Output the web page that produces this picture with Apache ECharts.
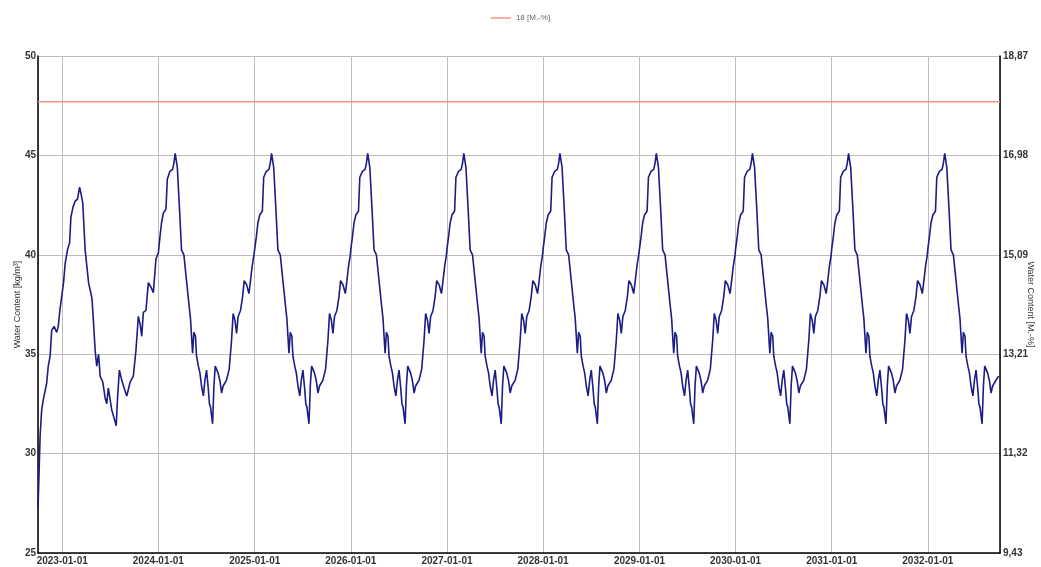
<!DOCTYPE html>
<html>
<head>
<meta charset="utf-8">
<script src="https://cdn.jsdelivr.net/npm/echarts@6/dist/echarts.min.js"></script>
<style>
html,body{margin:0;padding:0;background:#fff;}
#chart{width:1041px;height:567px;}
</style>
</head>
<body>
<div id="chart"></div>
<script>
// ---------- DATA ----------
const xTickLabels = ['2023-01-01','2024-01-01','2025-01-01','2026-01-01','2027-01-01','2028-01-01','2029-01-01','2030-01-01','2031-01-01','2032-01-01'];
const leftTickLabels = ['25','30','35','40','45','50'];
const rightTickLabels = ['9,43','11,32','13,21','15,09','16,98','18,87'];
const limitName = '18 [M.-%]';
const limitValue = 47.7; // in kg/m³ (18 M.-%)

// 2022 (from 2022-10-01), day offsets and values
const days2022 = [0, 4, 8, 14, 20, 26, 33, 39, 46, 52, 61, 71, 77, 83, 90];
const values2022 = [27.2, 29.0, 30.9, 32.2, 32.7, 32.8, 33.55, 34.4, 34.9, 36.2, 36.4, 36.1, 36.4, 37.2, 37.9];

// 2023 (from 2023-01-01)
const days2023 = [5, 11, 20, 28, 33, 41, 49, 58, 66, 71, 78, 87, 100, 113, 119, 125, 131, 138, 144, 154, 163, 169, 175, 182, 188, 194, 205, 210, 217, 226, 235, 245, 258, 270, 280, 289, 296, 302, 308, 318, 327, 336, 346, 356];
const values2023 = [38.6, 39.55, 40.25, 40.6, 41.9, 42.4, 42.7, 42.8, 43.4, 43.1, 42.6, 40.25, 38.6, 37.8, 36.55, 35.2, 34.4, 35.0, 33.9, 33.6, 32.8, 32.5, 33.3, 33.4, 32.2, 32.1, 31.4, 32.8, 34.2, 33.7, 33.3, 32.9, 33.6, 33.9, 35.2, 36.9, 36.5, 35.9, 37.1, 37.2, 38.6, 38.4, 38.1, 39.8];

// 2024..2032: day offsets from Jan 1 of each year
const yearDays = [0, 6, 12, 19, 29, 34, 44, 54, 59, 64, 72, 80, 88, 97, 107, 117, 122, 130, 135, 141, 145, 152, 158, 164, 171, 177, 183, 190, 194, 198, 206, 211, 216, 221, 227, 234, 240, 246, 259, 269, 278, 284, 291, 297, 303, 312, 320, 326, 335, 344, 350, 356, 363];
const values2024 = [40.1, 40.9, 41.6, 42.1, 42.3, 43.8, 44.2, 44.3, 44.6, 45.1, 44.4, 42.4, 40.25, 40.0, 38.7, 37.4, 36.8, 35.05, 36.1, 35.9, 34.9, 34.4, 34.05, 33.4, 32.9, 33.7, 34.2, 33.2, 32.5, 32.35, 31.5, 33.4, 34.4, 34.5, 34.05, 33.65, 33.05, 33.4, 33.7, 34.25, 35.7, 37.05, 36.7, 36.05, 36.9, 37.2, 37.9, 38.7, 38.5, 38.05, 38.7, 39.4, 40.0];
const values2025 = [40.3, 40.9, 41.6, 42.0, 42.2, 43.9, 44.2, 44.3, 44.6, 45.1, 44.4, 42.4, 40.25, 40.0, 38.7, 37.4, 36.8, 35.05, 36.1, 35.9, 34.9, 34.4, 34.05, 33.4, 32.9, 33.7, 34.2, 33.2, 32.5, 32.35, 31.5, 33.4, 34.4, 34.5, 34.05, 33.65, 33.05, 33.4, 33.7, 34.25, 35.7, 37.05, 36.7, 36.05, 36.9, 37.2, 37.9, 38.7, 38.5, 38.05, 38.7, 39.4, 40.0];
const values2026 = [40.3, 40.9, 41.6, 42.0, 42.2, 43.9, 44.2, 44.3, 44.6, 45.1, 44.4, 42.4, 40.25, 40.0, 38.7, 37.4, 36.8, 35.05, 36.1, 35.9, 34.9, 34.4, 34.05, 33.4, 32.9, 33.7, 34.2, 33.2, 32.5, 32.35, 31.5, 33.4, 34.4, 34.5, 34.05, 33.65, 33.05, 33.4, 33.7, 34.25, 35.7, 37.05, 36.7, 36.05, 36.9, 37.2, 37.9, 38.7, 38.5, 38.05, 38.7, 39.4, 40.0];
const values2027 = [40.3, 40.9, 41.6, 42.0, 42.2, 43.9, 44.2, 44.3, 44.6, 45.1, 44.4, 42.4, 40.25, 40.0, 38.7, 37.4, 36.8, 35.05, 36.1, 35.9, 34.9, 34.4, 34.05, 33.4, 32.9, 33.7, 34.2, 33.2, 32.5, 32.35, 31.5, 33.4, 34.4, 34.5, 34.05, 33.65, 33.05, 33.4, 33.7, 34.25, 35.7, 37.05, 36.7, 36.05, 36.9, 37.2, 37.9, 38.7, 38.5, 38.05, 38.7, 39.4, 40.0];
const values2028 = [40.3, 40.9, 41.6, 42.0, 42.2, 43.9, 44.2, 44.3, 44.6, 45.1, 44.4, 42.4, 40.25, 40.0, 38.7, 37.4, 36.8, 35.05, 36.1, 35.9, 34.9, 34.4, 34.05, 33.4, 32.9, 33.7, 34.2, 33.2, 32.5, 32.35, 31.5, 33.4, 34.4, 34.5, 34.05, 33.65, 33.05, 33.4, 33.7, 34.25, 35.7, 37.05, 36.7, 36.05, 36.9, 37.2, 37.9, 38.7, 38.5, 38.05, 38.7, 39.4, 40.0];
const values2029 = [40.3, 40.9, 41.6, 42.0, 42.2, 43.9, 44.2, 44.3, 44.6, 45.1, 44.4, 42.4, 40.25, 40.0, 38.7, 37.4, 36.8, 35.05, 36.1, 35.9, 34.9, 34.4, 34.05, 33.4, 32.9, 33.7, 34.2, 33.2, 32.5, 32.35, 31.5, 33.4, 34.4, 34.5, 34.05, 33.65, 33.05, 33.4, 33.7, 34.25, 35.7, 37.05, 36.7, 36.05, 36.9, 37.2, 37.9, 38.7, 38.5, 38.05, 38.7, 39.4, 40.0];
const values2030 = [40.3, 40.9, 41.6, 42.0, 42.2, 43.9, 44.2, 44.3, 44.6, 45.1, 44.4, 42.4, 40.25, 40.0, 38.7, 37.4, 36.8, 35.05, 36.1, 35.9, 34.9, 34.4, 34.05, 33.4, 32.9, 33.7, 34.2, 33.2, 32.5, 32.35, 31.5, 33.4, 34.4, 34.5, 34.05, 33.65, 33.05, 33.4, 33.7, 34.25, 35.7, 37.05, 36.7, 36.05, 36.9, 37.2, 37.9, 38.7, 38.5, 38.05, 38.7, 39.4, 40.0];
const values2031 = [40.3, 40.9, 41.6, 42.0, 42.2, 43.9, 44.2, 44.3, 44.6, 45.1, 44.4, 42.4, 40.25, 40.0, 38.7, 37.4, 36.8, 35.05, 36.1, 35.9, 34.9, 34.4, 34.05, 33.4, 32.9, 33.7, 34.2, 33.2, 32.5, 32.35, 31.5, 33.4, 34.4, 34.5, 34.05, 33.65, 33.05, 33.4, 33.7, 34.25, 35.7, 37.05, 36.7, 36.05, 36.9, 37.2, 37.9, 38.7, 38.5, 38.05, 38.7, 39.4, 40.0];
const values2032 = [40.3, 40.9, 41.6, 42.0, 42.2, 43.9, 44.2, 44.3, 44.6, 45.1, 44.4, 42.4, 40.25, 40.0, 38.7, 37.4, 36.8, 35.05, 36.1, 35.9, 34.9, 34.4, 34.05, 33.4, 32.9, 33.7, 34.2, 33.2, 32.5, 32.35, 31.5, 33.4, 34.4, 34.5, 34.05, 33.65, 33.05, 33.4, 33.7, 33.9];

// ---------- BUILD ----------
function pts(y, m, days, vals) {
  return vals.map((v, i) => [new Date(y, m, 1 + days[i]).getTime(), v]);
}
const waterData = [].concat(
  pts(2022, 9, days2022, values2022),
  pts(2023, 0, days2023, values2023),
  pts(2024, 0, yearDays, values2024),
  pts(2025, 0, yearDays, values2025),
  pts(2026, 0, yearDays, values2026),
  pts(2027, 0, yearDays, values2027),
  pts(2028, 0, yearDays, values2028),
  pts(2029, 0, yearDays, values2029),
  pts(2030, 0, yearDays, values2030),
  pts(2031, 0, yearDays, values2031),
  pts(2032, 0, yearDays, values2032)
);
const xMin = new Date(2022, 9, 1).getTime();
const xMax = new Date(2032, 9, 1).getTime();
const limitData = [[xMin, limitValue], [xMax, limitValue]];

function pad(n){return (n<10?'0':'')+n;}
const font = '"Liberation Sans", Arial, sans-serif';
const gridColor = '#bdbdbd';

const chart = echarts.init(document.getElementById('chart'), null, {renderer: 'canvas'});
chart.setOption({
  animation: false,
  backgroundColor: '#fff',
  textStyle: {fontFamily: font},
  legend: {
    top: 9, left: 'center',
    data: [limitName],
    icon: 'rect', itemWidth: 20, itemHeight: 1.5, itemGap: 6,
    textStyle: {fontSize: 8, color: '#666', fontFamily: font}
  },
  grid: {left: 38, right: 41, top: 56, bottom: 14, containLabel: false, outerBoundsMode: 'none'},
  xAxis: {
    type: 'time', min: xMin, max: xMax,
    minInterval: 365 * 864e5, maxInterval: 366 * 864e5,
    axisLine: {show: true, lineStyle: {color: '#000', width: 1.5}},
    axisTick: {show: false},
    axisLabel: {
      margin: 3, fontSize: 10, fontWeight: 'bold', color: '#333', fontFamily: font,
      showMinLabel: false, showMaxLabel: false, hideOverlap: false,
      formatter: function (val) {
        const d = new Date(val);
        const s = d.getFullYear() + '-' + pad(d.getMonth() + 1) + '-' + pad(d.getDate());
        return xTickLabels.indexOf(s) >= 0 ? s : '';
      }
    },
    splitLine: {show: true, lineStyle: {color: gridColor, width: 1}}
  },
  yAxis: [
    {
      type: 'value', min: 25, max: 50, interval: 5, position: 'left',
      name: 'Water Content [kg/m³]', nameLocation: 'middle', nameGap: 16, nameMoveOverlap: false,
      nameTextStyle: {fontSize: 9, color: '#333', fontFamily: font},
      axisLine: {show: true, lineStyle: {color: '#000', width: 1.5}},
      axisTick: {show: false},
      axisLabel: {margin: 2, fontSize: 10, fontWeight: 'bold', color: '#333',
        formatter: v => leftTickLabels[Math.round((v - 25) / 5)]},
      splitLine: {show: true, lineStyle: {color: gridColor, width: 1}}
    },
    {
      type: 'value', min: 25, max: 50, interval: 5, position: 'right',
      name: 'Water Content [M.-%]', nameLocation: 'middle', nameGap: 26, nameRotate: -90, nameMoveOverlap: false,
      nameTextStyle: {fontSize: 9, color: '#333', fontFamily: font},
      axisLine: {show: true, lineStyle: {color: '#000', width: 1.5}},
      axisTick: {show: false},
      axisLabel: {margin: 3, fontSize: 10, fontWeight: 'bold', color: '#333',
        formatter: v => rightTickLabels[Math.round((v - 25) / 5)]},
      splitLine: {show: false}
    }
  ],
  series: [
    {
      name: limitName, type: 'line', yAxisIndex: 0, data: limitData,
      showSymbol: false, symbol: 'none',
      lineStyle: {color: '#f29488', width: 1.5}, itemStyle: {color: '#f29488'}
    },
    {
      name: 'Water Content', type: 'line', yAxisIndex: 0, data: waterData,
      showSymbol: false, symbol: 'none',
      lineStyle: {color: '#1c1c86', width: 1.6}, itemStyle: {color: '#1c1c86'}
    }
  ]
});
</script>
</body>
</html>
